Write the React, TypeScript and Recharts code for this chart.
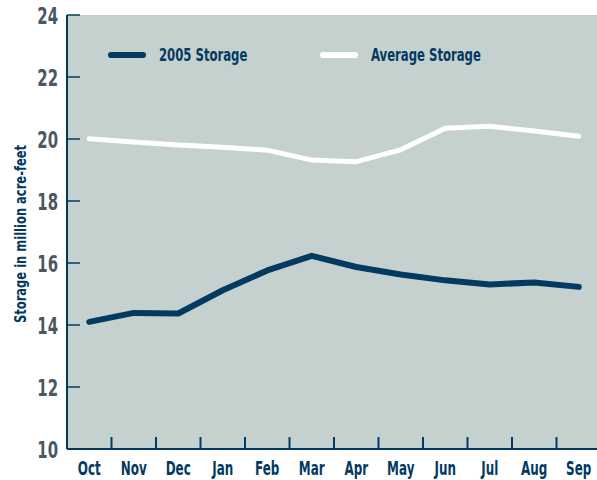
import { ComposedChart, Line, XAxis, YAxis, CartesianGrid, Legend } from 'recharts'

const months = ['Oct', 'Nov', 'Dec', 'Jan', 'Feb', 'Mar', 'Apr', 'May', 'Jun', 'Jul', 'Aug', 'Sep']
const storage2005 = [14.1, 14.39, 14.37, 15.12, 15.76, 16.23, 15.87, 15.63, 15.44, 15.31, 15.37, 15.23]
const averageStorage = [20.01, 19.9, 19.81, 19.73, 19.64, 19.32, 19.27, 19.65, 20.35, 20.41, 20.26, 20.09]
const yTicks = [10, 12, 14, 16, 18, 20, 22, 24]

const data = months.map((m, i) => ({ month: m, storage: storage2005[i], average: averageStorage[i] }))

const NAVY = '#033a62'
const GREY = '#4b5764'
const FONT = '"DejaVu Sans Condensed", "DejaVu Sans", sans-serif'
const BAND = 534 / 12

function XTick({ x, y, payload, index }: any) {
    return (
        <g>
            {index > 0 && <line x1={x - BAND / 2} x2={x - BAND / 2} y1={y} y2={y - 12} stroke={NAVY} strokeWidth={2} />}
            <text
                transform={`translate(${x},${y + 20}) scale(0.7,1)`}
                textAnchor="middle"
                dominantBaseline="central"
                fill={NAVY}
                fontFamily={FONT}
                fontWeight="bold"
                fontSize={19}
            >
                {payload.value}
            </text>
        </g>
    )
}

function YTick({ x, y, payload }: any) {
    return (
        <g>
            <line x1={x} x2={x + 13} y1={y} y2={y} stroke={NAVY} strokeWidth={1.5} />
            <text
                transform={`translate(${x - 9},${y + 1}) scale(0.72,1)`}
                textAnchor="end"
                dominantBaseline="central"
                fill={GREY}
                fontFamily={FONT}
                fontWeight="bold"
                fontSize={23}
            >
                {payload.value}
            </text>
        </g>
    )
}

function YLabel() {
    return (
        <text
            transform="translate(20,234) rotate(-90) scale(0.8,1)"
            textAnchor="middle"
            dominantBaseline="central"
            fill={NAVY}
            fontFamily={FONT}
            fontWeight="bold"
            fontSize={16}
        >
            Storage in million acre-feet
        </text>
    )
}

function LegendContent() {
    const item = (color: string, label: string, left: number) => (
        <div style={{ position: 'absolute', left, top: 0, height: 24, width: 200 }}>
            <div style={{ position: 'absolute', left: 0, top: 9, width: 38, height: 6, borderRadius: 3, background: color }} />
            <span
                style={{
                    position: 'absolute',
                    left: 51,
                    top: 0,
                    lineHeight: '24px',
                    color: NAVY,
                    fontFamily: FONT,
                    fontWeight: 'bold',
                    fontSize: 18,
                    whiteSpace: 'nowrap',
                    transform: 'scaleX(0.72)',
                    transformOrigin: 'left center',
                }}
            >
                {label}
            </span>
        </div>
    )
    return (
        <div style={{ position: 'relative', width: 500, height: 24 }}>
            {item(NAVY, '2005 Storage', 0)}
            {item('#ffffff', 'Average Storage', 212)}
        </div>
    )
}

export default function App() {
    return (
        <div style={{ width: 597, height: 480, background: '#ffffff', overflow: 'hidden' }}>
            <style>{'body{margin:0}'}</style>
            <ComposedChart width={597} height={480} data={data} margin={{ top: 15, right: -4, bottom: 0, left: 0 }}>
                <CartesianGrid horizontal={false} vertical={false} fill="#c5d1ce" />
                <XAxis
                    dataKey="month"
                    height={31}
                    padding={{ left: BAND / 2, right: BAND / 2 }}
                    axisLine={{ stroke: NAVY, strokeWidth: 2 }}
                    tickLine={false}
                    tickSize={0}
                    tickMargin={0}
                    interval={0}
                    tick={<XTick />}
                />
                <YAxis
                    width={67}
                    domain={[10, 24]}
                    ticks={yTicks}
                    interval={0}
                    axisLine={{ stroke: NAVY, strokeWidth: 2 }}
                    tickLine={false}
                    tickSize={0}
                    tickMargin={0}
                    tick={<YTick />}
                    label={<YLabel />}
                />
                <Legend
                    layout="horizontal"
                    verticalAlign="middle"
                    align="center"
                    content={<LegendContent />}
                    wrapperStyle={{ top: 43, left: 108, width: 500 }}
                />
                <Line dataKey="storage" name="2005 Storage" stroke={NAVY} strokeWidth={6} dot={false} strokeLinejoin="round" strokeLinecap="round" isAnimationActive={false} />
                <Line dataKey="average" name="Average Storage" stroke="#ffffff" strokeWidth={5} dot={false} strokeLinejoin="round" strokeLinecap="round" isAnimationActive={false} />
            </ComposedChart>
        </div>
    )
}
